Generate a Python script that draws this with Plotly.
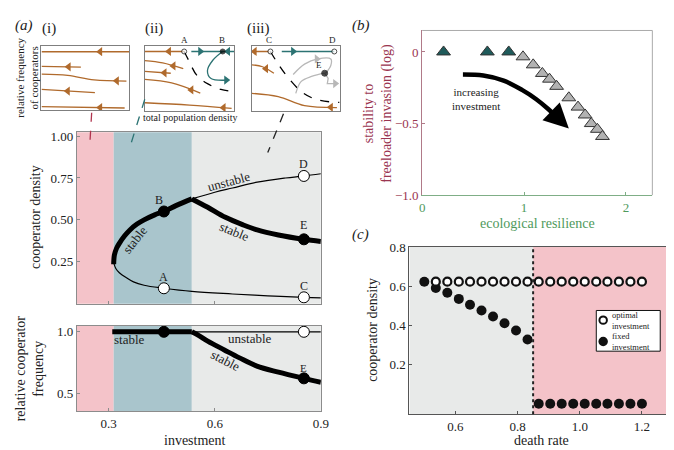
import plotly.graph_objects as go

W, H = 674, 450
SERIF = "Liberation Serif, DejaVu Serif, Times New Roman, serif"

# ---------------- Panel (a): bifurcation diagram ----------------
region_edges = [0.21, 0.314, 0.535, 0.9]
region_colors = ["#f4c3c9", "#a9c5cc", "#e8eae9"]

inv_stable_up = [0.314, 0.316, 0.322, 0.33, 0.345, 0.36, 0.38, 0.40, 0.43, 0.456, 0.49, 0.535]
coop_stable_up = [0.235, 0.29, 0.33, 0.36, 0.405, 0.44, 0.475, 0.50, 0.53, 0.55, 0.585, 0.625]
inv_unstable_low = [0.314, 0.32, 0.33, 0.35, 0.37, 0.40, 0.456, 0.535, 0.65, 0.75, 0.852, 0.9]
coop_unstable_low = [0.245, 0.21, 0.185, 0.155, 0.13, 0.11, 0.092, 0.073, 0.058, 0.047, 0.038, 0.035]
inv_unstable_up = [0.535, 0.6, 0.65, 0.72, 0.8, 0.852, 0.9]
coop_unstable_up = [0.625, 0.665, 0.69, 0.725, 0.75, 0.762, 0.775]
inv_stable_right = [0.535, 0.58, 0.63, 0.68, 0.72, 0.78, 0.852, 0.9]
coop_stable_right = [0.625, 0.575, 0.515, 0.47, 0.44, 0.41, 0.384, 0.371]

pt_labels = ["A", "B", "C", "D", "E"]
pt_inv = [0.456, 0.456, 0.852, 0.852, 0.852]
pt_coop = [0.092, 0.55, 0.038, 0.762, 0.384]
pt_filled = [False, True, False, False, True]
pt_label_x = [0.456, 0.441, 0.852, 0.852, 0.852]
pt_label_dy = [0.07, 0.07, 0.065, 0.07, 0.085]

# lower panel: relative cooperator frequency
inv_freq_flat = [0.31, 0.535]
freq_flat = [1.0, 1.0]
inv_freq_unstable = [0.535, 0.9]
freq_unstable = [1.0, 1.0]
inv_freq_stable = [0.535, 0.555, 0.58, 0.627, 0.67, 0.719, 0.78, 0.852, 0.9]
freq_stable = [1.0, 0.97, 0.925, 0.854, 0.79, 0.724, 0.675, 0.625, 0.594]
freq_pt_inv = [0.456, 0.852, 0.852]
freq_pt_val = [1.0, 1.0, 0.625]
freq_pt_filled = [True, False, True]

# ---------------- Panel (b) ----------------
resilience = [0.21, 0.64, 0.85, 0.99, 1.09, 1.18, 1.25, 1.32, 1.44, 1.53, 1.60, 1.66, 1.72, 1.77]
stability_log = [0.0, 0.0, 0.0, -0.034, -0.09, -0.15, -0.19, -0.24, -0.32, -0.385, -0.44, -0.50, -0.54, -0.59]
tri_colors = ["#1f5b5b"] * 3 + ["#b2b2b2"] * 11
arrow_x = [0.40, 0.60, 0.80, 0.98, 1.12, 1.24, 1.32]
arrow_y = [-0.158, -0.165, -0.20, -0.265, -0.33, -0.40, -0.455]

# ---------------- Panel (c) ----------------
death_rate = [0.50, 0.537, 0.574, 0.611, 0.647, 0.684, 0.721, 0.758, 0.795, 0.832,
              0.868, 0.905, 0.942, 0.979, 1.016, 1.053, 1.089, 1.126, 1.163, 1.20]
optimal_inv = [0.625] * 20
fixed_inv = [0.625, 0.593, 0.568, 0.537, 0.507, 0.478, 0.447, 0.412, 0.375, 0.329,
             0.0, 0.0, 0.0, 0.0, 0.0, 0.0, 0.0, 0.0, 0.0, 0.0]
collapse_rate = 0.85

# ---------------- Inset phase portraits (schematic) ----------------
BROWN = "#b06a2c"
TEAL = "#2c7373"
GREY = "#b8b8b8"
inset_i = [
    ([0, 1], [0.91, 0.91], 0.67),
    ([0, 0.45], [0.68, 0.67], 0.31),
    ([0, 0.3, 0.6, 0.97], [0.56, 0.54, 0.47, 0.45], 0.86),
    ([0, 0.61], [0.32, 0.27], 0.30),
    ([0, 0.95], [0.05, 0.03], 0.67),
]
inset_ii_brown = [
    ([0, 0.44], [0.915, 0.915], 0.27),
    ([0, 0.2, 0.43], [0.775, 0.74, 0.65], 0.32),
    ([0, 0.29], [0.61, 0.58], 0.22),
    ([0, 0.3, 0.62], [0.485, 0.43, 0.275], 0.52),
    ([0, 0.5, 0.97], [0.125, 0.09, 0.04], 0.88),
]
inset_ii_dash = ([0.44, 0.49, 0.58, 0.70, 0.85, 1.0], [0.915, 0.78, 0.55, 0.42, 0.33, 0.30])
inset_iii_brown = [
    ([0, 0.2], [0.915, 0.915], 0.03),
    ([0, 0.12, 0.25], [0.71, 0.68, 0.58], 0.16),
    ([0, 0.3, 0.6, 0.97], [0.27, 0.22, 0.08, 0.05], 0.9),
]
inset_iii_dash = ([0.21, 0.30, 0.42, 0.58, 0.75, 1.0], [0.915, 0.72, 0.50, 0.28, 0.17, 0.13])


def dom_x(x0, x1):
    return [x0 / W, x1 / W]


def dom_y(y0, y1):
    return [1 - y1 / H, 1 - y0 / H]


fig = go.Figure()


def add(tr, ax):
    suf = "" if ax == 1 else str(ax)
    tr.update(xaxis="x" + suf, yaxis="y" + suf, showlegend=False)
    fig.add_trace(tr)


# ---- (a) main
add(go.Scatter(x=inv_unstable_low, y=coop_unstable_low, mode="lines", line=dict(color="black", width=1.2, shape="spline")), 1)
add(go.Scatter(x=inv_unstable_up, y=coop_unstable_up, mode="lines", line=dict(color="black", width=1.2, shape="spline")), 1)
add(go.Scatter(x=inv_stable_up, y=coop_stable_up, mode="lines", line=dict(color="black", width=5, shape="spline")), 1)
add(go.Scatter(x=inv_stable_right, y=coop_stable_right, mode="lines", line=dict(color="black", width=5, shape="spline")), 1)
add(go.Scatter(x=pt_inv, y=pt_coop, mode="markers",
               marker=dict(size=11, color=["black" if f else "white" for f in pt_filled],
                           line=dict(color="black", width=1))), 1)

# ---- (a) lower
add(go.Scatter(x=inv_freq_unstable, y=freq_unstable, mode="lines", line=dict(color="black", width=1.2)), 2)
add(go.Scatter(x=inv_freq_flat, y=freq_flat, mode="lines", line=dict(color="black", width=5)), 2)
add(go.Scatter(x=inv_freq_stable, y=freq_stable, mode="lines", line=dict(color="black", width=5, shape="spline")), 2)
add(go.Scatter(x=freq_pt_inv, y=freq_pt_val, mode="markers",
               marker=dict(size=11, color=["black" if f else "white" for f in freq_pt_filled],
                           line=dict(color="black", width=1))), 2)

# ---- (b)
add(go.Scatter(x=arrow_x, y=arrow_y, mode="lines", line=dict(color="black", width=4.5, shape="spline")), 3)
add(go.Scatter(x=resilience, y=stability_log, mode="markers",
               marker=dict(symbol="triangle-up", size=12, color=tri_colors, line=dict(color="#333", width=1))), 3)

# ---- (c)
add(go.Scatter(x=death_rate, y=fixed_inv, mode="markers",
               marker=dict(size=10, color="#111", line=dict(color="#111", width=0))), 4)
add(go.Scatter(x=death_rate[1:], y=optimal_inv[1:], mode="markers",
               marker=dict(size=8, color="white", line=dict(color="#111", width=2.2))), 4)

# ---- insets
def arrow_marker(xs, ys, frac, color, ax, direction="left"):
    xa = frac
    ya = ys[-1]
    for k in range(len(xs) - 1):
        if xs[k] <= xa <= xs[k + 1]:
            t = (xa - xs[k]) / (xs[k + 1] - xs[k]) if xs[k + 1] != xs[k] else 0
            ya = ys[k] + t * (ys[k + 1] - ys[k])
            break
    add(go.Scatter(x=[xa], y=[ya], mode="markers",
                   marker=dict(symbol="triangle-" + direction, size=8, color=color, line=dict(width=0))), ax)


for xs, ys, fr in inset_i:
    add(go.Scatter(x=xs, y=ys, mode="lines", line=dict(color=BROWN, width=1.3, shape="spline")), 5)
    arrow_marker(xs, ys, fr, BROWN, 5)

for xs, ys, fr in inset_ii_brown:
    add(go.Scatter(x=xs, y=ys, mode="lines", line=dict(color=BROWN, width=1.3, shape="spline")), 6)
    arrow_marker(xs, ys, fr, BROWN, 6)
add(go.Scatter(x=inset_ii_dash[0], y=inset_ii_dash[1], mode="lines", line=dict(color="black", width=1.3, dash="dash", shape="spline")), 6)
add(go.Scatter(x=[0.52, 1.0], y=[0.915, 0.915], mode="lines", line=dict(color=TEAL, width=1.3)), 6)
add(go.Scatter(x=[0.87, 0.76, 0.70, 0.74, 0.93], y=[0.915, 0.78, 0.62, 0.5, 0.475], mode="lines", line=dict(color=TEAL, width=1.3, shape="spline")), 6)
add(go.Scatter(x=[0.62, 0.93], y=[0.915, 0.915], mode="markers", marker=dict(symbol=["triangle-right", "triangle-left"], size=8, color=TEAL)), 6)
add(go.Scatter(x=[0.91], y=[0.475], mode="markers", marker=dict(symbol="triangle-right", size=8, color=TEAL)), 6)
add(go.Scatter(x=[0.44, 0.87], y=[0.915, 0.915], mode="markers",
               marker=dict(size=[5, 5], color=["white", "black"], line=dict(color="black", width=1))), 6)

for xs, ys, fr in inset_iii_brown:
    add(go.Scatter(x=xs, y=ys, mode="lines", line=dict(color=BROWN, width=1.3, shape="spline")), 7)
    arrow_marker(xs, ys, fr, BROWN, 7)
add(go.Scatter(x=inset_iii_dash[0], y=inset_iii_dash[1], mode="lines", line=dict(color="black", width=1.3, dash="dash", shape="spline")), 7)
add(go.Scatter(x=[0.34, 0.94], y=[0.915, 0.915], mode="lines", line=dict(color=TEAL, width=1.3)), 7)
add(go.Scatter(x=[0.47], y=[0.915], mode="markers", marker=dict(symbol="triangle-right", size=8, color=TEAL)), 7)
add(go.Scatter(x=[0.47, 0.6, 0.75, 0.9, 0.9, 0.84], y=[0.56, 0.72, 0.8, 0.8, 0.7, 0.58], mode="lines", line=dict(color=GREY, width=1.3, shape="spline")), 7)
add(go.Scatter(x=[0.5, 0.56, 0.68, 0.83], y=[0.27, 0.45, 0.53, 0.58], mode="lines", line=dict(color=GREY, width=1.3, shape="spline")), 7)
add(go.Scatter(x=[0.83, 0.87, 0.86, 0.97], y=[0.58, 0.5, 0.42, 0.42], mode="lines", line=dict(color=GREY, width=1.3)), 7)
add(go.Scatter(x=[0.74, 0.95], y=[0.8, 0.42], mode="markers", marker=dict(symbol="triangle-right", size=8, color=GREY)), 7)
add(go.Scatter(x=[0.21, 0.94, 0.83], y=[0.915, 0.915, 0.58], mode="markers",
               marker=dict(size=[5, 5, 6], color=["white", "white", "black"], line=dict(color="black", width=1))), 7)

# ---------------- layout ----------------
tickfont = dict(family=SERIF, size=13, color="#222")
FRAME = "#8c8c8c"

def frame_axis(**kw):
    d = dict(showline=True, mirror=True, linecolor=FRAME, linewidth=1, showgrid=False,
             zeroline=False, ticks="inside", ticklen=3, tickcolor=FRAME, tickfont=tickfont)
    d.update(kw)
    return d

inset_ax = dict(range=[0, 1], showline=True, mirror=True, linecolor="#7f7f7f", linewidth=1,
                showgrid=False, zeroline=False, showticklabels=False, ticks="")

layout = dict(
    width=W, height=H, margin=dict(l=0, r=0, t=0, b=0),
    paper_bgcolor="white", plot_bgcolor="rgba(0,0,0,0)", showlegend=False,
    font=dict(family=SERIF, color="#222"),
    xaxis=frame_axis(domain=dom_x(67, 315), range=[0.21, 0.9], anchor="y",
                     tickvals=[0.3, 0.6, 0.9], showticklabels=False),
    yaxis=frame_axis(domain=dom_y(122, 299), range=[0.0, 1.023], anchor="x",
                     tickvals=[0.25, 0.5, 0.75, 1.0], ticktext=["0.25", "0.50", "0.75", "1.00"]),
    xaxis2=frame_axis(domain=dom_x(67, 315), range=[0.21, 0.9], anchor="y2",
                      tickvals=[0.3, 0.6, 0.9], ticktext=["0.3", "0.6", "0.9"]),
    yaxis2=frame_axis(domain=dom_y(322, 410), range=[0.36, 1.047], anchor="x2",
                      tickvals=[0.5, 1.0], ticktext=["0.5", "1.0"]),
    xaxis3=dict(domain=dom_x(418, 652), range=[0, 2.26], anchor="y3", showline=True, linecolor="#7fae86",
                linewidth=1, showgrid=False, zeroline=False, ticks="inside", ticklen=3, tickcolor="#7fae86",
                tickvals=[0, 1, 2], tickfont=dict(family=SERIF, size=13, color="#4f9a5c")),
    yaxis3=dict(domain=dom_y(17, 187), range=[-1.0, 0.15], anchor="x3", showline=True, linecolor="#b07a88",
                linewidth=1, showgrid=False, zeroline=False, ticks="inside", ticklen=3, tickcolor="#b07a88",
                tickvals=[0, -0.5, -1.0], ticktext=["0", "\u22120.5", "\u22121.0"],
                tickfont=dict(family=SERIF, size=13, color="#9a3550")),
    xaxis4=frame_axis(domain=dom_x(405, 673), range=[0.452, 1.30], anchor="y4", linecolor="#555",
                      tickcolor="#555", tickvals=[0.6, 0.8, 1.0, 1.2], ticktext=["0.6", "0.8", "1.0", "1.2"]),
    yaxis4=frame_axis(domain=dom_y(240, 413), range=[-0.053, 0.805], anchor="x4", linecolor="#555",
                      tickcolor="#555", tickvals=[0.2, 0.4, 0.6, 0.8], ticktext=["0.2", "0.4", "0.6", "0.8"]),
    xaxis5=dict(inset_ax, domain=dom_x(31, 120), anchor="y5"),
    yaxis5=dict(inset_ax, domain=dom_y(33, 99), anchor="x5"),
    xaxis6=dict(inset_ax, domain=dom_x(136, 227), anchor="y6"),
    yaxis6=dict(inset_ax, domain=dom_y(33, 100), anchor="x6"),
    xaxis7=dict(inset_ax, domain=dom_x(245, 334), anchor="y7"),
    yaxis7=dict(inset_ax, domain=dom_y(33, 100), anchor="x7"),
)
fig.update_layout(**layout)

shapes = []
for ya in ["y", "y2"]:
    xa = "x" if ya == "y" else "x2"
    for k, col in enumerate(region_colors):
        shapes.append(dict(type="rect", xref=xa, yref=ya + " domain", x0=region_edges[k], x1=region_edges[k + 1],
                           y0=0, y1=1, fillcolor=col, line=dict(width=0), layer="below"))
shapes.append(dict(type="rect", xref="x4", yref="y4 domain", x0=0.452, x1=collapse_rate, y0=0, y1=1,
                   fillcolor="#e8eae9", line=dict(width=0), layer="below"))
shapes.append(dict(type="rect", xref="x4", yref="y4 domain", x0=collapse_rate, x1=1.30, y0=0, y1=1,
                   fillcolor="#f4c3c9", line=dict(width=0), layer="below"))
shapes.append(dict(type="line", xref="x4", yref="y4 domain", x0=collapse_rate, x1=collapse_rate, y0=0, y1=1,
                   line=dict(color="#222", width=2, dash="dot")))
shapes.append(dict(type="line", xref="x3 domain", yref="y3 domain", x0=0, x1=1, y0=1, y1=1, line=dict(color="#aaa", width=1)))
shapes.append(dict(type="line", xref="x3 domain", yref="y3 domain", x0=1, x1=1, y0=0, y1=1, line=dict(color="#aaa", width=1)))
for (x0, y0, x1, y1, col) in [(82, 102, 80, 137, "#b0344e"), (136, 88, 121, 137, "#2c7373"), (277, 103, 261, 143, "#222")]:
    shapes.append(dict(type="line", xref="paper", yref="paper", x0=x0 / W, x1=x1 / W, y0=1 - y0 / H, y1=1 - y1 / H,
                       line=dict(color=col, width=1.3, dash="dash")))
shapes.append(dict(type="rect", xref="paper", yref="paper", x0=595 / W, x1=660 / W, y0=1 - 348 / H, y1=1 - 306 / H,
                   fillcolor="white", line=dict(color="#111", width=1)))
for (cx, cy, fc) in [(602, 316, "white"), (602, 338, "#111")]:
    r = 3.8
    shapes.append(dict(type="circle", xref="paper", yref="paper", x0=(cx - r) / W, x1=(cx + r) / W,
                       y0=1 - (cy + r) / H, y1=1 - (cy - r) / H, fillcolor=fc, line=dict(color="#111", width=2)))
fig.update_layout(shapes=shapes)

ann = []
def T(text, x, y, xref, yref, size=13, color="#222", angle=0, xanchor="center", yanchor="middle", italic=False):
    if italic:
        text = "<i>" + text + "</i>"
    ann.append(dict(text=text, x=x, y=y, xref=xref, yref=yref, showarrow=False, textangle=angle,
                    font=dict(family=SERIF, size=size, color=color), xanchor=xanchor, yanchor=yanchor))

def P(text, px, py, **kw):
    T(text, px / W, 1 - py / H, "paper", "paper", **kw)

P("(a)", 2, 12, size=15, italic=True, xanchor="left")
P("(b)", 345, 12, size=15, italic=True, xanchor="left")
P("(c)", 345, 228, size=15, italic=True, xanchor="left")
P("(i)", 39, 15, size=15)
P("(ii)", 145, 15, size=15)
P("(iii)", 252, 15, size=15)
P("relative frequency<br>of cooperators", 16, 66, size=11, angle=-90)
P("total population density", 182, 107, size=10)
P("A", 176, 27, size=9); P("B", 214, 27, size=9)
P("C", 262, 27, size=9); P("D", 327, 27, size=9)
T("E", 0.77, 0.7, "x7", "y7", size=9)

P("cooperator density", 25, 210, size=14, angle=-90)
P("relative cooperator<br>frequency", 19, 366, size=14, angle=-90)
P("investment", 187, 440, size=14)
P("stability to<br>freeloader invasion (log)", 373, 102, size=14, angle=-90, color="#9a3550")
P("ecological resilience", 535, 216, size=14, color="#4f9a5c")
P("cooperator density", 368, 326, size=14, angle=-90)
P("death rate", 539, 440, size=14)

for lab, lx, yi, dy in zip(pt_labels, pt_label_x, pt_coop, pt_label_dy):
    T(lab, lx, yi + dy, "x", "y", size=12)
T("unstable", 0.64, 0.73, "x", "y", size=13, angle=-15)
T("stable", 0.375, 0.38, "x", "y", size=13, angle=-52)
T("stable", 0.655, 0.43, "x", "y", size=13, angle=22)
T("A, B", 0.44, 1.1, "x2", "y2", size=11)
T("C, D", 0.845, 1.1, "x2", "y2", size=11)
T("E", 0.852, 0.71, "x2", "y2", size=11)
T("stable", 0.36, 0.935, "x2", "y2", size=13)
T("unstable", 0.7, 0.945, "x2", "y2", size=13)
T("stable", 0.63, 0.765, "x2", "y2", size=13, angle=27)
T("increasing<br>investment", 0.53, -0.33, "x3", "y3", size=11)
ann.append(dict(x=1.44, y=-0.535, ax=1.31, ay=-0.445, xref="x3", yref="y3", axref="x3", ayref="y3",
                showarrow=True, arrowhead=2, arrowsize=1.1, arrowwidth=4.5, arrowcolor="black", text="", standoff=0))
P("optimal<br>investment", 609, 316, size=8.5)
P("fixed<br>investment", 609, 338, size=8.5)
ann[-2].update(xanchor="left", align="left")
ann[-1].update(xanchor="left", align="left")

fig.update_layout(annotations=ann)
fig.write_html("out.html")
